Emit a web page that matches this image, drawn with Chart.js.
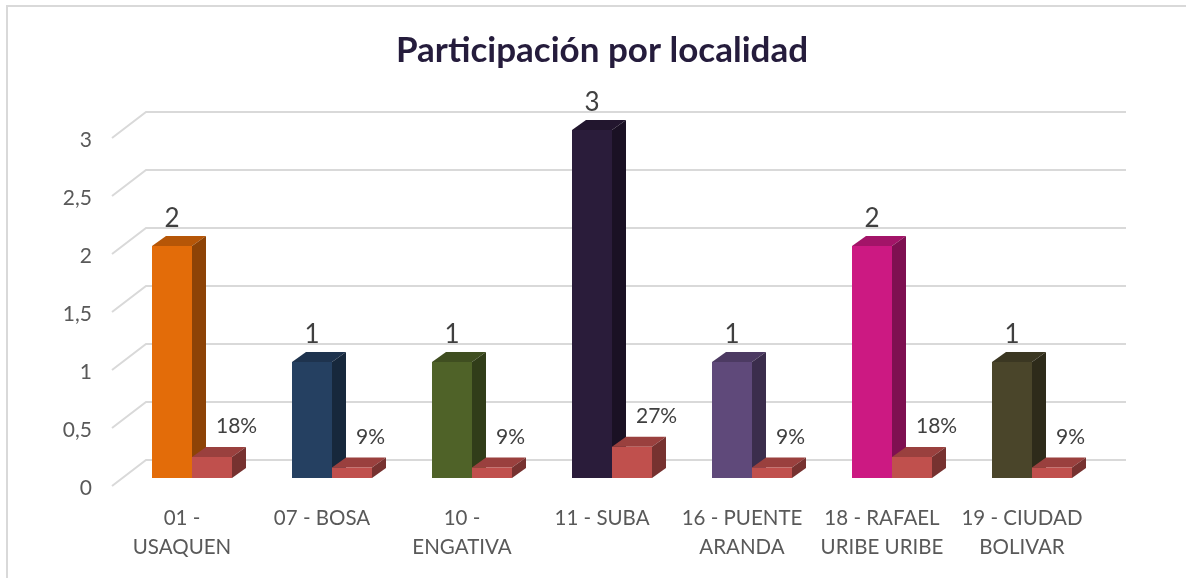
<!DOCTYPE html>
<html>
<head>
<meta charset="utf-8">
<style>
  html, body { margin: 0; padding: 0; background: #fff; }
  #wrap { position: relative; width: 1186px; height: 578px; }
</style>
<script src="https://cdn.jsdelivr.net/npm/chart.js@4"></script>
</head>
<body>
<div id="wrap"><canvas id="chart"></canvas></div>
<script>
const categories = [
  ['01 -', 'USAQUEN'],
  ['07 - BOSA'],
  ['10 -', 'ENGATIVA'],
  ['11 - SUBA'],
  ['16 - PUENTE', 'ARANDA'],
  ['18 - RAFAEL', 'URIBE URIBE'],
  ['19 - CIUDAD', 'BOLIVAR']
];
const participantes = [2, 1, 1, 3, 1, 2, 1];
const porcentaje = [0.18, 0.09, 0.09, 0.27, 0.09, 0.18, 0.09];
const barColors = ['#E36C09', '#254061', '#4F6228', '#2A1C3A', '#5F497A', '#CC1982', '#4A452A'];
const shareColor = '#C0504D';

const FONT = 'Lato, sans-serif';
const GRID = '#d9d9d9';

function shade(hex, f) {
  const n = parseInt(hex.slice(1), 16);
  const c = [n >> 16, (n >> 8) & 255, n & 255].map(v => Math.round(v * f));
  return `rgb(${c[0]},${c[1]},${c[2]})`;
}

function poly(ctx, pts, fill) {
  ctx.fillStyle = fill;
  ctx.beginPath();
  pts.forEach((p, i) => i ? ctx.lineTo(p[0], p[1]) : ctx.moveTo(p[0], p[1]));
  ctx.closePath();
  ctx.fill();
}

// fake 3d: wall gridlines behind, bars pushed back into the floor
const depth = { wallX: 34, wallY: 26, barX: 10, barY: 8, faceX: 14, faceY: 10 };

const frame3d = {
  id: 'frame3d',
  beforeDraw(chart) {
    const { ctx, width } = chart;
    ctx.save();
    ctx.strokeStyle = GRID;
    ctx.lineWidth = 2;
    ctx.beginPath();
    ctx.moveTo(7, chart.height);
    ctx.lineTo(7, 6);
    ctx.lineTo(width, 6);
    ctx.stroke();
    ctx.restore();
  },
  beforeDatasetsDraw(chart) {
    const { ctx, chartArea, scales } = chart;
    ctx.save();
    ctx.strokeStyle = GRID;
    ctx.lineWidth = 2;
    scales.y.ticks.forEach(t => {
      const y = scales.y.getPixelForValue(t.value);
      ctx.beginPath();
      ctx.moveTo(chartArea.left, y);
      ctx.lineTo(chartArea.left + depth.wallX, y - depth.wallY);
      ctx.lineTo(chartArea.right + depth.wallX, y - depth.wallY);
      ctx.stroke();
    });
    // top and side faces go first so every front face covers them
    ctx.translate(depth.barX, -depth.barY);
    [0, 1].forEach(d => {
      const colors = chart.data.datasets[d].backgroundColor;
      chart.getDatasetMeta(d).data.forEach((bar, i) => {
        const c = Array.isArray(colors) ? colors[i] : colors;
        const l = bar.x - bar.width / 2, r = bar.x + bar.width / 2;
        const dx = depth.faceX, dy = depth.faceY;
        poly(ctx, [[l, bar.y], [l + dx, bar.y - dy], [r + dx, bar.y - dy], [r, bar.y]], shade(c, 0.8));
        poly(ctx, [[r, bar.y], [r + dx, bar.y - dy], [r + dx, bar.base - dy], [r, bar.base]], shade(c, 0.62));
      });
    });
    ctx.restore();
  },
  beforeDatasetDraw(chart) {
    chart.ctx.save();
    chart.ctx.translate(depth.barX, -depth.barY);
  },
  afterDatasetDraw(chart) {
    chart.ctx.restore();
  },
  afterDatasetsDraw(chart) {
    const { ctx } = chart;
    ctx.save();
    ctx.fillStyle = '#404040';
    ctx.textBaseline = 'alphabetic';
    ctx.font = '26px ' + FONT;
    ctx.textAlign = 'center';
    chart.getDatasetMeta(0).data.forEach((bar, i) => {
      ctx.fillText(participantes[i], bar.x + depth.barX, bar.y - depth.barY - 19);
    });
    ctx.font = '21px ' + FONT;
    ctx.textAlign = 'left';
    chart.getDatasetMeta(1).data.forEach((bar, i) => {
      ctx.fillText(Math.round(porcentaje[i] * 100) + '%', bar.x + depth.barX + 4, bar.y - depth.barY - 24);
    });
    ctx.restore();
  }
};

new Chart(document.getElementById('chart'), {
  type: 'bar',
  data: {
    labels: categories,
    datasets: [
      { label: 'Participantes', data: participantes, backgroundColor: barColors },
      { label: 'Porcentaje', data: porcentaje, backgroundColor: shareColor }
    ]
  },
  plugins: [frame3d],
  options: {
    responsive: true,
    maintainAspectRatio: false,
    animation: false,
    categoryPercentage: 80 / 140,
    barPercentage: 1,
    layout: { padding: { left: 0, right: 94, top: 0, bottom: 0 } },
    plugins: {
      legend: { display: false },
      tooltip: { enabled: false },
      title: {
        display: true,
        fullSize: false,
        text: 'Participación por localidad',
        color: '#251C3C',
        font: { family: FONT, size: 35, weight: 'bold' },
        padding: { top: 30, bottom: 66 }
      }
    },
    scales: {
      x: {
        grid: { display: false },
        border: { display: false },
        afterFit(s) { s.height = 92; },
        ticks: {
          color: '#595959',
          font: { family: FONT, size: 20.5, lineHeight: 1.42 },
          padding: 10,
          maxRotation: 0,
          autoSkip: false
        }
      },
      y: {
        min: 0,
        max: 3,
        afterFit(s) { s.width = 112; },
        grid: { display: false },
        border: { display: false },
        ticks: {
          stepSize: 0.5,
          color: '#595959',
          padding: 12,
          font: { family: FONT, size: 21, lineHeight: 0.2 },
          // empty first line nudges the number down to where the reference has it
          callback: v => ['', String(v).replace('.', ',')]
        }
      }
    }
  }
});
</script>
</body>
</html>
